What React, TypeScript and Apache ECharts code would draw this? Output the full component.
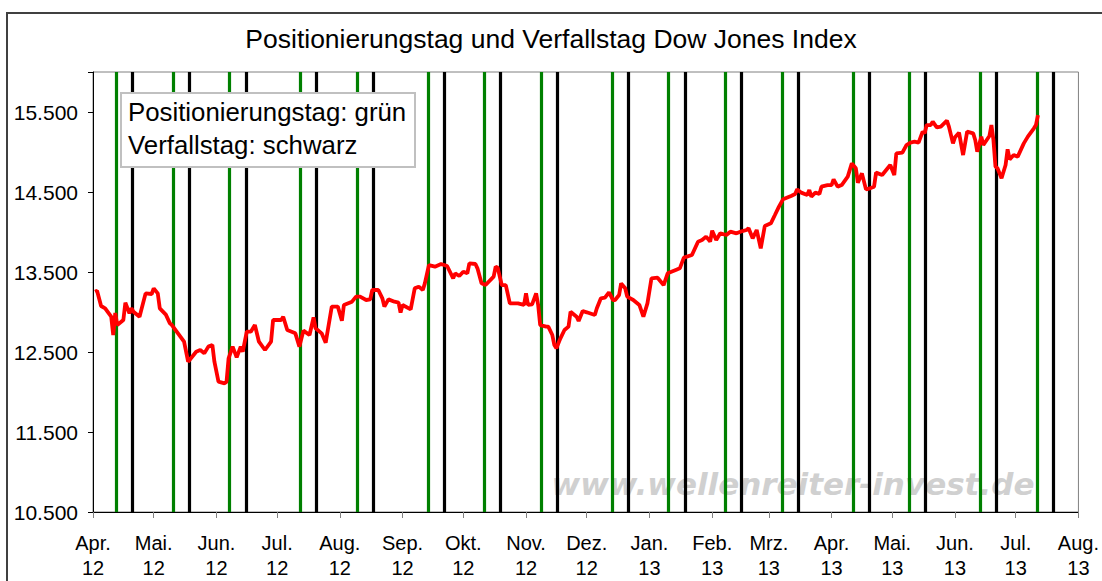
import React, { useEffect, useRef } from "react";
import * as echarts from "echarts";

const titleText = "Positionierungstag und Verfallstag Dow Jones Index";
const legendLines = ["Positionierungstag: grün", "Verfallstag: schwarz"];
const watermark = "www.wellenreiter-invest.de";
const monthNames = ["Jan.", "Feb.", "Mrz.", "Apr.", "Mai.", "Jun.", "Jul.", "Aug.", "Sep.", "Okt.", "Nov.", "Dez."];
const yTicks = [10500, 11500, 12500, 13500, 14500, 15500];

const dates = [
  "2012-04-02","2012-04-03","2012-04-05","2012-04-07","2012-04-10","2012-04-11","2012-04-12","2012-04-13","2012-04-16","2012-04-17",
  "2012-04-19","2012-04-20","2012-04-21","2012-04-24","2012-04-27","2012-04-30",
  "2012-05-01","2012-05-03","2012-05-04","2012-05-07","2012-05-09","2012-05-10","2012-05-13","2012-05-16","2012-05-18","2012-05-22",
  "2012-05-24","2012-05-26","2012-05-28","2012-05-30","2012-05-31",
  "2012-06-02","2012-06-05","2012-06-06","2012-06-07","2012-06-09","2012-06-11","2012-06-13","2012-06-14","2012-06-16","2012-06-18",
  "2012-06-20","2012-06-22","2012-06-25","2012-06-28","2012-06-29",
  "2012-07-03","2012-07-04","2012-07-06","2012-07-10","2012-07-12","2012-07-14","2012-07-17","2012-07-19","2012-07-20","2012-07-23",
  "2012-07-25","2012-07-28","2012-07-31",
  "2012-08-02","2012-08-03","2012-08-07","2012-08-09","2012-08-11","2012-08-14","2012-08-16","2012-08-17","2012-08-20","2012-08-22",
  "2012-08-23","2012-08-25","2012-08-28","2012-08-30","2012-08-31",
  "2012-09-01","2012-09-05","2012-09-07","2012-09-09","2012-09-11","2012-09-12","2012-09-14","2012-09-17","2012-09-20","2012-09-23",
  "2012-09-26","2012-09-27","2012-09-29",
  "2012-10-01","2012-10-03","2012-10-04","2012-10-07","2012-10-08","2012-10-10","2012-10-12","2012-10-16","2012-10-17","2012-10-18",
  "2012-10-20","2012-10-22","2012-10-24","2012-10-26","2012-10-28","2012-10-31",
  "2012-11-01","2012-11-02","2012-11-04","2012-11-06","2012-11-07","2012-11-08","2012-11-11","2012-11-12","2012-11-14","2012-11-15",
  "2012-11-16","2012-11-18","2012-11-20","2012-11-22","2012-11-23","2012-11-26","2012-11-27","2012-11-29",
  "2012-12-01","2012-12-05","2012-12-06","2012-12-08","2012-12-10","2012-12-12","2012-12-14","2012-12-15","2012-12-17","2012-12-18",
  "2012-12-20","2012-12-21","2012-12-24","2012-12-27","2012-12-29","2012-12-31",
  "2013-01-02","2013-01-05","2013-01-08","2013-01-10","2013-01-14","2013-01-16","2013-01-18","2013-01-22","2013-01-25","2013-01-27",
  "2013-01-29","2013-01-31",
  "2013-02-01","2013-02-03","2013-02-05","2013-02-08","2013-02-10","2013-02-13","2013-02-15","2013-02-18","2013-02-19","2013-02-21",
  "2013-02-23","2013-02-25","2013-02-27",
  "2013-03-02","2013-03-04","2013-03-06","2013-03-08","2013-03-12","2013-03-14","2013-03-15","2013-03-17","2013-03-20","2013-03-21",
  "2013-03-22","2013-03-24","2013-03-26","2013-03-27","2013-03-30",
  "2013-04-01","2013-04-02","2013-04-04","2013-04-06","2013-04-09","2013-04-11","2013-04-13","2013-04-14","2013-04-16","2013-04-18",
  "2013-04-20","2013-04-22","2013-04-23","2013-04-26","2013-04-28","2013-04-30",
  "2013-05-02","2013-05-03","2013-05-06","2013-05-08","2013-05-10","2013-05-12","2013-05-14","2013-05-16","2013-05-17","2013-05-18",
  "2013-05-20","2013-05-21","2013-05-23","2013-05-25","2013-05-28","2013-05-29","2013-05-31",
  "2013-06-01","2013-06-03","2013-06-05","2013-06-07","2013-06-10","2013-06-11","2013-06-12","2013-06-14","2013-06-15","2013-06-18",
  "2013-06-19","2013-06-20","2013-06-21","2013-06-22","2013-06-24","2013-06-26","2013-06-27","2013-06-28","2013-06-30",
  "2013-07-02","2013-07-05","2013-07-07","2013-07-10","2013-07-11","2013-07-12"
];

const values = [
  13254,13266,13075,13046,12941,12712,12987,12837,12900,13117,
  12983,13046,13004,12941,13233,13225,
  13296,13233,13046,12967,12858,12837,12733,12629,12379,12504,
  12525,12483,12567,12587,12379,
  12129,12108,12129,12421,12567,12433,12567,12504,12754,12754,
  12837,12629,12525,12629,12900,
  12900,12941,12775,12733,12567,12767,12712,12933,12796,12733,
  12617,13067,13067,
  12892,13088,13129,13192,13192,13150,13158,13275,13275,13171,
  13067,13158,13129,13117,12992,
  13088,13033,13296,13317,13275,13358,13587,13567,13600,13575,
  13421,13483,13450,
  13504,13483,13608,13600,13546,13358,13337,13442,13567,13554,
  13337,13337,13108,13108,13108,13088,
  13233,13088,13096,13233,13088,12837,12817,12817,12712,12587,
  12546,12671,12775,12817,13004,12941,12888,13012,
  12996,12962,13046,13171,13179,13246,13150,13150,13213,13358,
  13296,13192,13150,13088,12941,13108,
  13421,13429,13337,13483,13525,13546,13679,13712,13879,13900,
  13942,13879,
  14017,13900,13983,13962,14004,13983,14004,14025,14046,13921,
  14025,13796,14075,
  14108,14212,14317,14408,14450,14475,14533,14492,14462,14525,
  14442,14492,14475,14567,14587,
  14587,14658,14567,14587,14692,14858,14796,14617,14733,14533,
  14546,14567,14742,14712,14775,14837,
  14712,14983,14992,15087,15117,15129,15117,15254,15233,15337,
  15337,15379,15308,15317,15392,15317,15108,
  15183,15242,14962,15254,15233,15150,15004,15192,15087,15200,
  15337,15150,14817,14796,14671,14837,15033,14908,14962,
  14942,15108,15192,15296,15337,15462
];

const greenDates = ["2012-04-12","2012-05-10","2012-06-07","2012-07-12","2012-08-09","2012-09-13","2012-10-11","2012-11-08",
  "2012-12-13","2013-01-10","2013-02-07","2013-03-07","2013-04-11","2013-05-09","2013-06-13","2013-07-11"];
const blackDates = ["2012-04-20","2012-05-18","2012-06-15","2012-07-20","2012-08-17","2012-09-21","2012-10-19","2012-11-16",
  "2012-12-21","2013-01-18","2013-02-15","2013-03-15","2013-04-19","2013-05-17","2013-06-21","2013-07-19"];

const FONT = "'Liberation Sans', Arial, sans-serif";

function fmtThousands(v: number): string {
  const th = Math.floor(v / 1000);
  const rest = String(Math.round(v % 1000)).padStart(3, "0");
  return th + "." + rest;
}

export default function App() {
  const ref = useRef<HTMLDivElement>(null);
  useEffect(() => {
    if (!ref.current) return;
    const chart = echarts.init(ref.current, null, { renderer: "svg" });
    const seriesData = dates.map((d, i) => [d, values[i]]);
    const vLine = (list: string[], color: string) => ({
      type: "line",
      data: [],
      z: 1,
      silent: true,
      markLine: {
        silent: true,
        symbol: ["none", "none"],
        label: { show: false },
        emphasis: { disabled: true },
        lineStyle: { color, width: 3.2, type: "solid" },
        data: list.map((d) => ({ xAxis: d + "T12:00:00" })),
      },
    });
    chart.setOption({
      animation: false,
      backgroundColor: "#ffffff",
      title: {
        text: titleText,
        left: "center",
        top: 20,
        textStyle: { fontFamily: FONT, fontSize: 26.5, fontWeight: "normal", color: "#000" },
      },
      grid: {
        left: 93,
        top: 72,
        right: 14,
        bottom: 69,
        show: true,
        borderColor: "#808080",
        borderWidth: 1,
        containLabel: false,
      },
      xAxis: {
        type: "time",
        min: "2012-04-01",
        max: "2013-08-01",
        splitNumber: 16,
        minInterval: 28 * 86400000,
        maxInterval: 31 * 86400000,
        axisLine: { show: true, lineStyle: { color: "#000", width: 1 } },
        axisTick: { show: true, length: 6, lineStyle: { color: "#808080", width: 1 } },
        splitLine: { show: false },
        axisLabel: {
          show: true,
          margin: 18,
          fontFamily: FONT,
          fontSize: 20,
          lineHeight: 25,
          color: "#000",
          hideOverlap: false,
          showMinLabel: true,
          showMaxLabel: true,
          formatter: (v: number) => {
            const d = new Date(v);
            return monthNames[d.getMonth()] + "\n" + String(d.getFullYear()).slice(2);
          },
        },
      },
      yAxis: {
        type: "value",
        min: 10500,
        max: 16000,
        interval: 1000,
        axisLine: { show: true, lineStyle: { color: "#000", width: 1 } },
        axisTick: { show: true, length: 5, lineStyle: { color: "#000", width: 1 } },
        splitLine: { show: false },
        axisLabel: {
          margin: 15,
          fontFamily: FONT,
          fontSize: 21,
          color: "#000",
          formatter: (v: number) => (yTicks.indexOf(v) >= 0 ? fmtThousands(v) : ""),
        },
      },
      graphic: [
        {
          type: "rect",
          z: -10,
          silent: true,
          shape: { x: 7, y: 13, width: 1200, height: 700 },
          style: { fill: "none", stroke: "#404040", lineWidth: 2 },
        },
        {
          type: "text",
          z: 0,
          silent: true,
          x: 793,
          y: 484,
          style: {
            text: watermark,
            fill: "#d0d0d0",
            font: "italic bold 31px 'DejaVu Sans', sans-serif",
            align: "center",
            verticalAlign: "middle",
          },
        },
        {
          type: "group",
          z: 50,
          silent: true,
          children: [
            {
              type: "rect",
              z: 50,
              shape: { x: 121, y: 93, width: 294, height: 74 },
              style: { fill: "#ffffff", stroke: "#c0c0c0", lineWidth: 2 },
            },
            {
              type: "text",
              z: 51,
              x: 128,
              y: 112,
              style: { text: legendLines[0], fill: "#000", font: "25.8px " + FONT, verticalAlign: "middle" },
            },
            {
              type: "text",
              z: 51,
              x: 128,
              y: 145,
              style: { text: legendLines[1], fill: "#000", font: "25.8px " + FONT, verticalAlign: "middle" },
            },
          ],
        },
      ],
      series: [
        vLine(greenDates, "#008000"),
        vLine(blackDates, "#000000"),
        {
          type: "line",
          z: 5,
          data: seriesData,
          showSymbol: false,
          symbol: "none",
          lineStyle: { color: "#ff0000", width: 3.8 },
          silent: true,
        },
      ],
    });
    return () => chart.dispose();
  }, []);
  return (
    <div
      ref={ref}
      style={{ position: "fixed", left: 0, top: 0, width: 1102, height: 581, background: "#fff" }}
    />
  );
}
